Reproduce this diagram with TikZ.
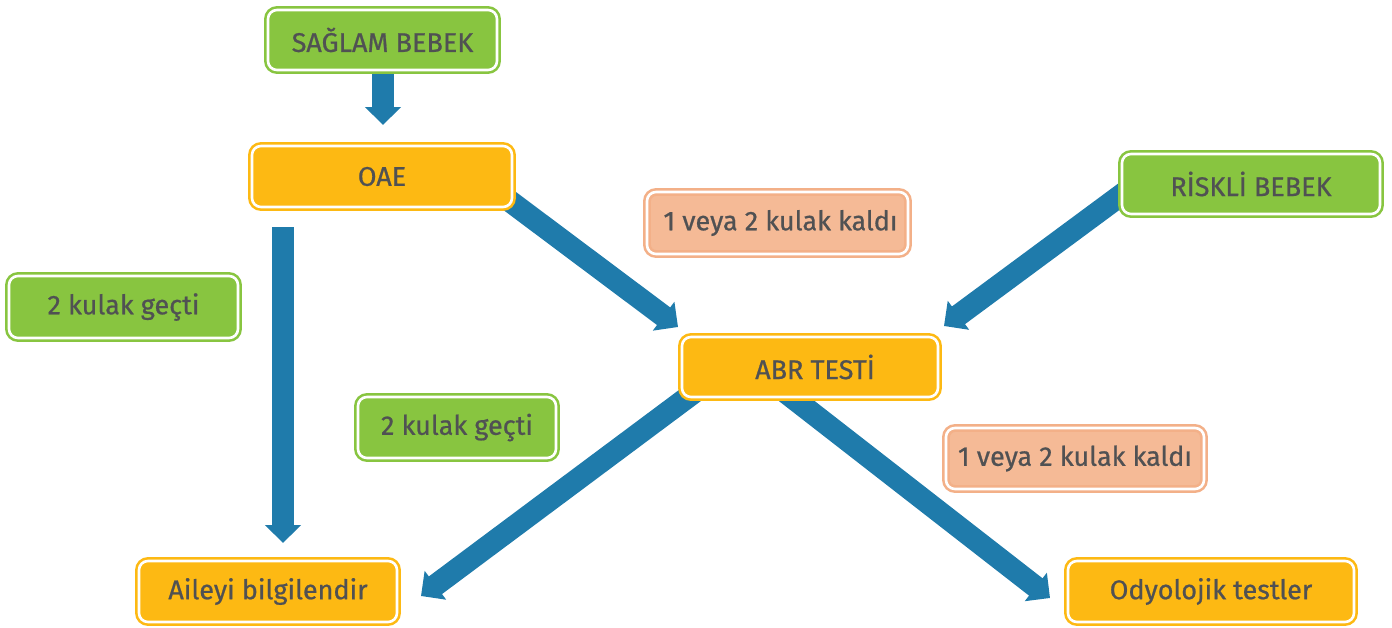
\documentclass[tikz,border=0pt]{standalone}
\usepackage{fontspec}
\setmainfont{Fira Sans}
\newfontfamily\boxfont{Fira Sans}[FakeBold=0.7]
\usetikzlibrary{arrows.meta}
\definecolor{cgreen}{HTML}{88C540}
\definecolor{corange}{HTML}{FDB913}
\definecolor{csalmon}{HTML}{F5BA96}
\definecolor{csalmonb}{HTML}{F3B088}
\definecolor{cblue}{HTML}{1F7BAB}
\definecolor{ctext}{HTML}{505153}
\tikzset{
  box/.style={rounded corners=9pt, line width=2.6pt, double=white, double distance=2.6pt,
    text=ctext, font=\boxfont\fontsize{27}{31}\selectfont, inner sep=0pt},
  gbox/.style={box, draw=cgreen, fill=cgreen},
  obox/.style={box, draw=corange, fill=corange},
  sbox/.style={box, draw=csalmonb, fill=csalmon},
  bigarrow/.style={draw=cblue, line width=22pt, -{Triangle[length=18pt,width=35pt]}},
}
\begin{document}
\begin{tikzpicture}[x=1pt,y=-1pt]
\useasboundingbox (0,0) rectangle (1392,627);
% arrow end points
\coordinate (a1s) at (383,70);
\coordinate (a1e) at (383,125);
\coordinate (a2s) at (283,227);
\coordinate (a2e) at (283,543);
\coordinate (a3s) at (495,190);
\coordinate (a3e) at (678,327);
\coordinate (a4s) at (1132,187);
\coordinate (a4e) at (944,326);
\coordinate (a5s) at (700,388);
\coordinate (a5e) at (421,596);
\coordinate (a6s) at (780,388);
\coordinate (a6e) at (1050,598);
% arrows (beneath the boxes)
\draw[bigarrow] (a1s) -- (a1e);
\draw[bigarrow] (a2s) -- (a2e);
\draw[bigarrow] (a3s) -- (a3e);
\draw[bigarrow] (a4s) -- (a4e);
\draw[bigarrow] (a5s) -- (a5e);
\draw[bigarrow] (a6s) -- (a6e);
% boxes
\node[gbox, minimum width=229pt, minimum height=60pt] (saglam) at (382.5,40) {SAĞLAM BEBEK};
\node[obox, minimum width=260pt, minimum height=61pt] (oae) at (382,176.5) {OAE};
\node[gbox, minimum width=258pt, minimum height=60pt] (riskli) at (1251,184) {RİSKLİ BEBEK};
\node[sbox, minimum width=261pt, minimum height=62pt] (kaldi1) at (777.5,223) {\hspace{6pt}1 veya 2 kulak kaldı};
\node[gbox, minimum width=229pt, minimum height=62pt] (gecti1) at (123.5,307) {2 kulak geçti};
\node[obox, minimum width=256pt, minimum height=60pt] (abr) at (810,367) {\hspace{10pt}ABR TESTİ};
\node[gbox, minimum width=198pt, minimum height=61pt] (gecti2) at (457,427.5) {2 kulak geçti};
\node[sbox, minimum width=258pt, minimum height=61pt] (kaldi2) at (1075,458.5) {1 veya 2 kulak kaldı};
\node[obox, minimum width=258pt, minimum height=61pt] (aile) at (268,591.5) {Aileyi bilgilendir};
\node[obox, minimum width=286pt, minimum height=61pt] (odyo) at (1211,591.5) {Odyolojik testler};
\end{tikzpicture}
\end{document}
